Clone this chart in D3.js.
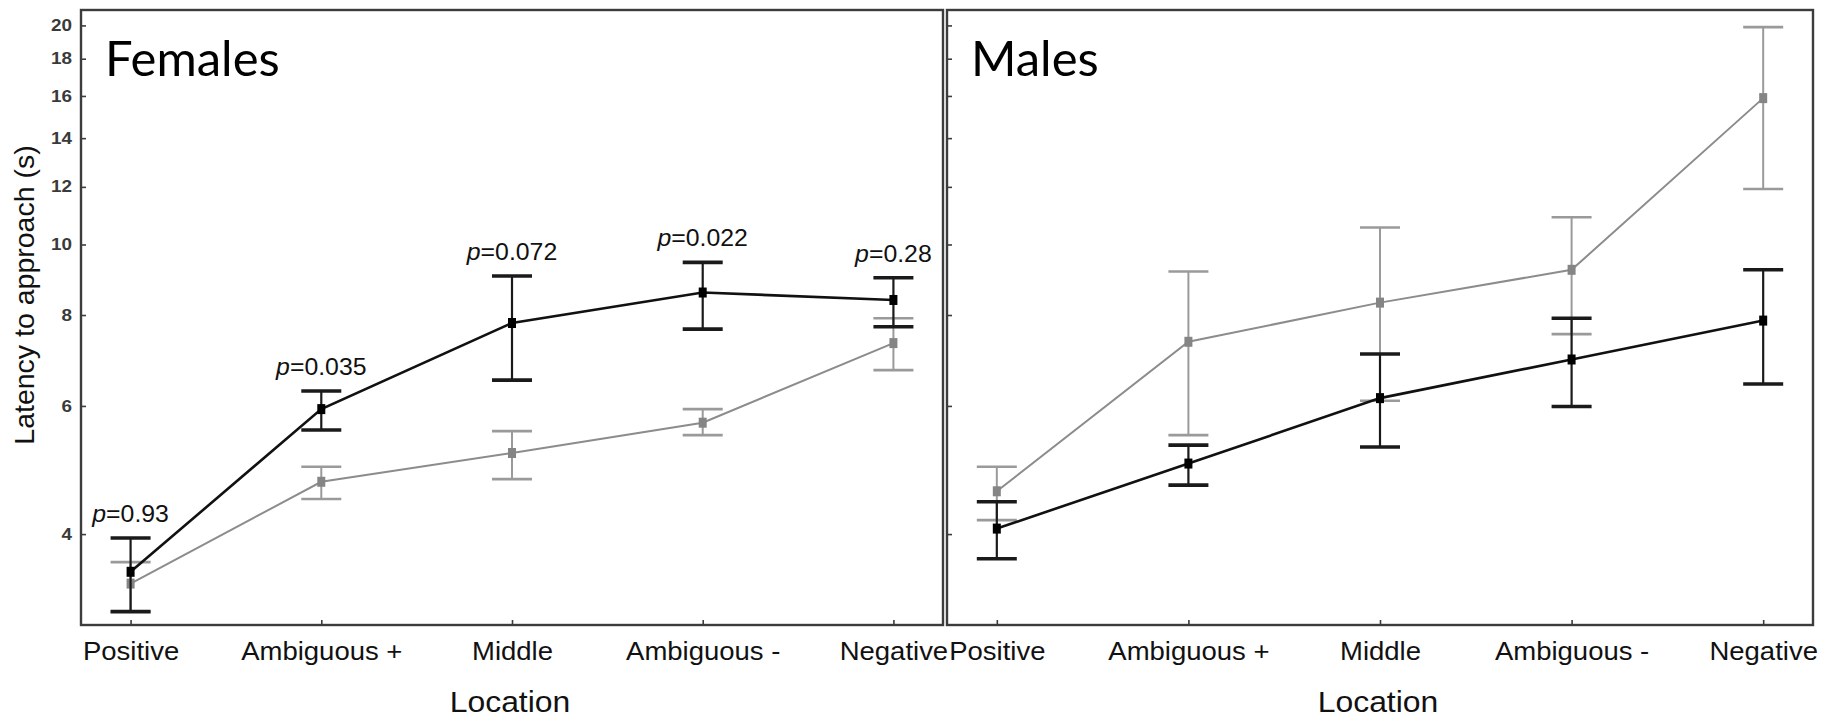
<!DOCTYPE html>
<html>
<head>
<meta charset="utf-8">
<script src="https://cdn.jsdelivr.net/npm/d3@7"></script>
<style>
  html, body { margin: 0; padding: 0; background: #fff; }
  svg { display: block; }
</style>
</head>
<body>
<svg id="chart" width="1841" height="718"></svg>
<script>
// ---------- data ----------
const categories = ["Positive", "Ambiguous +", "Middle", "Ambiguous -", "Negative"];
const yTicks = [4, 6, 8, 10, 12, 14, 16, 18, 20];
const panelTitles = ["Females", "Males"];
const xAxisTitle = "Location";
const yAxisTitle = "Latency to approach (s)";

// Females
const femalesBlackMean = [3.55, 5.94, 7.80, 8.59, 8.39];
const femalesBlackLow  = [3.13, 5.56, 6.51, 7.65, 7.71];
const femalesBlackHigh = [3.95, 6.29, 9.05, 9.45, 9.00];
const femalesGrayMean  = [3.42, 4.72, 5.17, 5.69, 7.32];
const femalesGrayLow   = [3.13, 4.47, 4.76, 5.47, 6.72];
const femalesGrayHigh  = [3.66, 4.95, 5.54, 5.94, 7.92];
const femalesPValues   = ["0.93", "0.035", "0.072", "0.022", "0.28"];

// Males
const malesBlackMean = [4.07, 5.00, 6.15, 6.95, 7.86];
const malesBlackLow  = [3.70, 4.67, 5.27, 5.99, 6.43];
const malesBlackHigh = [4.43, 5.30, 7.07, 7.92, 9.23];
const malesGrayMean  = [4.58, 7.35, 8.32, 9.23, 15.89];
const malesGrayLow   = [4.18, 5.47, 6.10, 7.53, 11.92];
const malesGrayHigh  = [4.95, 9.18, 10.55, 10.90, 19.89];

// ---------- layout ----------
const svg = d3.select("#chart");
const plotTop = 10, plotBottom = 625;
const panels = [
  { title: panelTitles[0], x0: 81, x1: 943, showLabels: true,
    black: { mean: femalesBlackMean, low: femalesBlackLow, high: femalesBlackHigh },
    gray:  { mean: femalesGrayMean,  low: femalesGrayLow,  high: femalesGrayHigh },
    pvals: femalesPValues },
  { title: panelTitles[1], x0: 947, x1: 1813, showLabels: false,
    black: { mean: malesBlackMean, low: malesBlackLow, high: malesBlackHigh },
    gray:  { mean: malesGrayMean,  low: malesGrayLow,  high: malesGrayHigh },
    pvals: null }
];

const y = d3.scaleLog().domain([3, 21]).range([plotBottom, plotTop]);
const FONT = "'Liberation Sans', Arial, Helvetica, sans-serif";
const SX = 1.1; // horizontal stretch of the original figure's text

const styles = {
  gray:  { line: "#8c8c8c", lw: 2,   bar: "#9a9a9a", bw: 2,   cap: "#9a9a9a", cw: 2.6, mark: "#858585" },
  black: { line: "#111",    lw: 2.6, bar: "#1a1a1a", bw: 2.2, cap: "#1a1a1a", cw: 3.6, mark: "#000" }
};

panels.forEach(p => {
  const x = d3.scalePoint().domain(categories).range([p.x0, p.x1]).padding(0.26);
  const g = svg.append("g");

  // frame
  g.append("rect")
    .attr("x", p.x0).attr("y", plotTop)
    .attr("width", p.x1 - p.x0).attr("height", plotBottom - plotTop)
    .attr("fill", "none").attr("stroke", "#3c3c3c").attr("stroke-width", 2.4);

  // y axis (inward ticks)
  const ya = g.append("g").attr("transform", `translate(${p.x0},0)`)
    .call(d3.axisLeft(y).tickValues(yTicks).tickFormat(d3.format("d")).tickSize(-5).tickPadding(9));
  ya.select(".domain").remove();
  ya.selectAll(".tick line").attr("stroke", "#3c3c3c").attr("stroke-width", 1.6);
  if (p.showLabels) {
    ya.selectAll(".tick text")
      .attr("font-family", FONT).attr("font-size", 16).attr("font-weight", "bold")
      .attr("fill", "#3a3a3a")
      .attr("x", -9 / 1.18).attr("transform", "scale(1.18,1)");
  } else {
    ya.selectAll(".tick text").remove();
  }

  // x axis (inward ticks)
  const xa = g.append("g").attr("transform", `translate(0,${plotBottom})`)
    .call(d3.axisBottom(x).tickSize(-5));
  xa.select(".domain").remove();
  xa.selectAll(".tick line").attr("stroke", "#3c3c3c").attr("stroke-width", 1.6);
  xa.selectAll(".tick text")
    .attr("font-family", FONT).attr("font-size", 25).attr("fill", "#111")
    .attr("y", 35).attr("dy", 0)
    .attr("transform", `scale(${SX},1)`);

  // x axis title
  const midX = (x(categories[0]) + x(categories[categories.length - 1])) / 2;
  g.append("text")
    .attr("transform", `translate(${midX - 2},712) scale(${SX},1)`)
    .attr("text-anchor", "middle")
    .attr("font-family", FONT).attr("font-size", 29).attr("fill", "#111")
    .text(xAxisTitle);

  // panel title
  g.append("text")
    .attr("x", p.x0 + 24).attr("y", 76)
    .attr("font-family", "Lato, 'Open Sans', sans-serif").attr("font-size", 49)
    .attr("fill", "#000")
    .text(p.title);

  // series
  ["gray", "black"].forEach(key => {
    const s = p[key], st = styles[key];
    const pts = categories.map((c, i) => ({ c, m: s.mean[i], lo: s.low[i], hi: s.high[i] }));

    g.append("path").datum(pts)
      .attr("fill", "none").attr("stroke", st.line).attr("stroke-width", st.lw)
      .attr("d", d3.line().x(d => x(d.c)).y(d => y(d.m)));

    const eb = g.append("g").selectAll("g").data(pts).join("g");
    eb.append("line")
      .attr("x1", d => x(d.c)).attr("x2", d => x(d.c))
      .attr("y1", d => y(d.lo)).attr("y2", d => y(d.hi))
      .attr("stroke", st.bar).attr("stroke-width", st.bw);
    ["lo", "hi"].forEach(k => {
      eb.append("line")
        .attr("x1", d => x(d.c) - 20).attr("x2", d => x(d.c) + 20)
        .attr("y1", d => y(d[k])).attr("y2", d => y(d[k]))
        .attr("stroke", st.cap).attr("stroke-width", st.cw);
    });
    eb.append("rect")
      .attr("x", d => x(d.c) - 4).attr("y", d => y(d.m) - 5)
      .attr("width", 8).attr("height", 10)
      .attr("fill", st.mark);
  });

  // p-value annotations
  if (p.pvals) {
    categories.forEach((c, i) => {
      const hi = Math.max(p.black.high[i], p.gray.high[i]);
      const t = g.append("text")
        .attr("transform", `translate(${x(c)},${y(hi) - 16}) scale(1.08,1)`)
        .attr("text-anchor", "middle")
        .attr("font-family", FONT).attr("font-size", 23).attr("fill", "#111");
      t.append("tspan").attr("font-style", "italic").text("p");
      t.append("tspan").text("=" + p.pvals[i]);
    });
  }
});

// y axis title
svg.append("text")
  .attr("transform", "translate(34,295) rotate(-90)")
  .attr("text-anchor", "middle")
  .attr("font-family", FONT).attr("font-size", 28.5).attr("fill", "#111")
  .text(yAxisTitle);
</script>
</body>
</html>
